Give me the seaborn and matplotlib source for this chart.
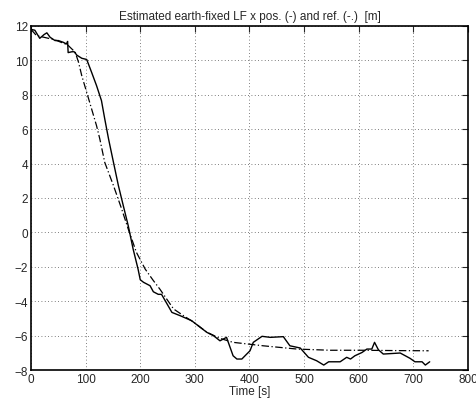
import numpy as np
import pandas as pd
import matplotlib
matplotlib.use("Agg")
import matplotlib.pyplot as plt
import seaborn as sns

# stima della posizione (linea continua)
t_est = [0, 7, 16, 24, 29, 35, 44, 50, 59, 65, 67, 68, 75, 79, 84, 93, 102, 111, 120,
         129, 135, 142, 151, 160, 169, 178, 187, 196, 200, 206, 218, 224, 233, 239,
         258, 273, 294, 310, 322, 334, 346, 358, 370, 377, 386, 395, 401, 407, 423,
         438, 462, 474, 493, 508, 523, 536, 545, 566, 578, 585, 593, 606, 615, 624,
         629, 636, 645, 676, 694, 703, 716, 722, 730]
x_est = [11.8, 11.75, 11.28, 11.5, 11.6, 11.34, 11.15, 11.15, 11.05, 10.95, 11.1, 10.45,
         10.5, 10.5, 10.3, 10.12, 10.05, 9.3, 8.53, 7.66, 6.6, 5.43, 4.07, 2.72, 1.55,
         0.39, -0.97, -2.13, -2.75, -2.9, -3.1, -3.45, -3.6, -3.6, -4.65, -4.84, -5.13,
         -5.52, -5.81, -6.0, -6.3, -6.1, -7.17, -7.36, -7.36, -7.07, -6.88, -6.39,
         -6.04, -6.1, -6.06, -6.59, -6.72, -7.26, -7.46, -7.71, -7.52, -7.52, -7.26,
         -7.36, -7.17, -6.98, -6.78, -6.78, -6.39, -6.82, -7.07, -7.01, -7.32, -7.52,
         -7.52, -7.71, -7.52]

# riferimento (linea tratto-punto)
t_ref = [0, 10, 43, 67, 81, 87, 93, 102, 111, 120, 126, 135, 151, 166, 178, 193, 209,
         224, 236, 261, 282, 297, 322, 345, 370, 398, 425, 487, 548, 609, 670, 728]
x_ref = [11.8, 11.44, 11.2, 10.9, 10.47, 9.89, 9.1, 8.14, 7.17, 6.2, 5.43, 4.07, 2.72,
         1.36, 0.2, -1.16, -2.13, -2.8, -3.3, -4.45, -4.9, -5.2, -5.8, -6.15, -6.39,
         -6.49, -6.59, -6.78, -6.85, -6.85, -6.87, -6.88]

sns.set_style("white")
plt.rcParams['font.family'] = ['Liberation Sans', 'DejaVu Sans']

fig = plt.figure(figsize=(4.77, 4.02), dpi=100)
ax = fig.add_axes([0.065, 0.077, 0.916, 0.856])

df_est = pd.DataFrame({"t": t_est, "x": x_est})
df_ref = pd.DataFrame({"t": t_ref, "x": x_ref})

sns.lineplot(data=df_est, x="t", y="x", color="black", linewidth=1.0, ax=ax)
sns.lineplot(data=df_ref, x="t", y="x", color="black", linewidth=0.9,
             linestyle=(0, (6, 2, 1, 2)), ax=ax)

ax.set_xlim(0, 800)
ax.set_ylim(-8, 12)
ax.set_xticks(np.arange(0, 801, 100))
ax.set_yticks(np.arange(-8, 13, 2))
ax.grid(True, linestyle=(0, (1, 3)), color="#555555", linewidth=0.6)
ax.tick_params(direction="in", length=4, labelsize=8.5, top=True, right=True,
               width=0.8, pad=2)
for s in ax.spines.values():
    s.set_linewidth(1.2)
    s.set_color("black")

ax.set_xlabel("Time [s]", fontsize=8.5, labelpad=0)
ax.set_ylabel("")
ax.set_title("Estimated earth-fixed LF x pos. (-) and ref. (-.)  [m]", fontsize=8.5, pad=5)

fig.savefig("out.png", dpi=100)
